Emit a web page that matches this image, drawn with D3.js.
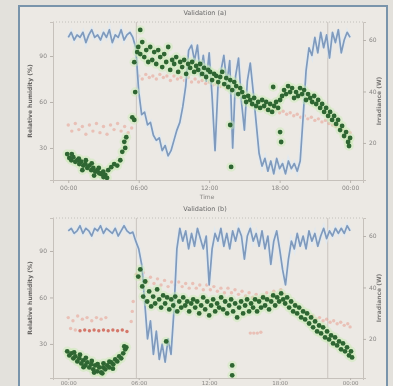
<!DOCTYPE html>
<html><head><meta charset="utf-8">
<script src="https://cdn.jsdelivr.net/npm/d3@7"></script>
<style>body{margin:0;background:#e3e1dc;} svg{display:block;font-family:"DejaVu Sans",sans-serif;}</style>
</head><body><svg id="c" width="393" height="386"></svg>
<script>
// ---------- data ----------
const hourTicks = [0, 6, 12, 18, 24];
const hourLabels = ["00:00", "06:00", "12:00", "18:00", "00:00"];
const leftTicks = [30, 60, 90];
const rightTicks = [20, 40, 60];
const markerHours = [5.8, 22.1];
const sampleHours = d3.range(0, 24.001, 0.25);

const blueTop = [61,63,60,62,61,63,59,62,64,61,62,60,63,61,64,59,62,61,64,60,62,63,61,57,40,31,32,27,28,23,21,22,17,19,15,17,21,25,28,34,42,56,58,52,58,46,54,44,55,38,17,42,48,54,43,52,18,46,53,36,25,44,51,40,28,16,11,14,9,13,8,14,10,12,8,13,10,12,9,13,30,48,57,54,61,55,63,57,62,53,63,59,64,55,60,63,61];
const blueBottom = [62,63,61,62,64,61,63,62,60,63,62,64,61,63,62,61,63,60,62,64,62,61,61.5,58,55,49,35,20,27,14,23,12,18,11,20,14,31,55,63,58,62,55,61,56,63,59,55,60,41,55,61,58,63,56,61,55,62,58,63,60,51,60,63,58,61,56,62,55,60,49,58,62,55,47,41,51,58,55,61,56,60,55,62,58,61,56,60,63,59,62,60,63,61,63,61,64,62];

const greenTop = [[-0.09,26],[0.09,23.5],[0.26,22],[0.43,24],[0.6,21],[0.77,22],[0.94,19.5],[1.11,21],[1.28,18.5],[1.45,19.5],[1.62,17],[1.79,18.5],[1.96,15.5],[2.13,17],[2.3,14.5],[2.47,15.5],[2.64,13.5],[2.81,13],[2.98,14.5],[3.15,12.5],[3.4,15.5],[3.66,17.5],[3.91,19.5],[4.17,18.5],[4.43,22],[4.6,27.5],[4.77,34],[4.94,37],[4.85,30],[0.3,26],[0.9,23],[1.5,22],[2.0,20],[2.6,17],[3.0,11],[3.3,10.5],[1.2,15.5],[2.2,12],
[5.45,50],[5.62,48.3],[5.7,66.5],[5.62,86],[6.13,107],[5.87,92.6],
[5.96,95.9],[6.13,91.3],[6.3,99.1],[6.47,89.3],[6.64,93.9],[6.81,86.1],[6.98,95.9],[7.15,87.4],[7.32,92.6],[7.49,84.8],[7.66,93.9],[7.83,89.3],[8.0,82.8],[8.17,91.3],[8.34,86.1],[8.51,95.9],[8.68,80.9],[8.85,87.4],[9.02,84.8],[9.19,89.3],[9.36,79.6],[9.53,86.1],[9.7,82.8],[9.87,87.4],[10.04,78.3],[10.21,84.8],[10.38,82.2],[10.55,86.1],[10.72,79.6],[10.89,83.5],[11.06,80.9],[11.23,84.8],
[11.4,78.3],[11.57,82.2],[11.74,76.3],[11.91,80.9],[12.08,79.6],[12.25,74.3],[12.42,78.3],[12.6,77],[12.77,73],[12.94,76.3],[13.11,79.6],[13.28,71.7],[13.45,75.6],[13.62,69.8],[13.79,74.3],[13.96,67.8],[14.13,73],[14.3,70.4],[14.47,65.2],[14.64,69.1],[14.81,66.5],[14.98,63.3],[15.15,60],[15.32,63.9],[15.49,61.3],[15.66,58.7],[15.83,62.6],[16.0,57.4],[16.17,60],[16.34,56.1],[16.51,61.3],[16.68,57.4],[16.85,60],[17.02,54.8],[17.19,58.7],[17.36,53.5],[17.53,57.4],[17.7,60],[17.87,56.1],[18.04,61.3],[18.21,63.9],[18.38,67.8],[18.55,65.2],[18.72,70.4],[18.89,66.5],[19.06,69.1],[19.23,62.6],[19.4,66.5],[19.57,63.9],[19.74,69.1],[19.91,65.2],[20.08,67.8],[20.25,61.3],[20.42,65.2],[20.6,62.6],[20.77,60],[20.94,63.9],[21.11,58.7],[21.28,61.3],[21.45,56.1],[21.62,58.7],[21.79,53.5],[21.96,56.1],[22.13,50.9],[22.3,53.5],[22.47,48.3],[22.64,50.9],[22.81,45.7],[22.98,48.3],[23.15,41.7],[23.32,44.4],[23.49,37.8],[23.66,40.4],[23.83,33.9],[24.0,36.5],[23.91,31.3],
[13.79,45],[13.87,17.6],[18.04,40.4],[18.13,33.9],[17.45,69.8]];

const redTop = [[0,45],[0.3,41],[0.6,46],[0.9,42],[1.2,44],[1.5,39],[1.8,45],[2.1,41],[2.4,46],[2.7,40],[3.0,44],[3.3,39],[3.6,45],[3.9,42],[4.2,46],[4.5,41],[4.8,44],[5.1,40],[5.4,43],
[6.0,77],[6.3,75],[6.6,78],[6.9,76],[7.2,77],[7.5,75],[7.8,78],[8.1,76],[8.4,77],[8.7,74],[9.0,77],[9.3,75],[9.6,76],[9.9,74],[10.2,76],[10.5,73],[10.8,75],[11.1,73],[11.4,74],[11.7,72],[12.0,73],[12.3,71],[12.6,72],[12.9,70],[13.2,71],[13.5,69],[13.8,70],[14.1,67],[14.4,68],[14.7,65],[15.0,63],[15.3,60],[15.6,58],[15.9,59],[16.2,56],[16.5,57],[16.8,55],[17.1,56],[17.4,54],[17.7,55],[18.0,53],[18.3,54],[18.6,52],[18.9,53],[19.2,51],[19.5,52],[19.8,50],[20.1,51],[20.4,49],[20.7,50],[21.0,48],[21.3,49],[21.6,47],[21.9,48],[22.2,46],[22.5,45],[22.8,44],[23.1,43],[23.4,42],[23.7,41],[24.0,40]];

const greenBottom = [[-0.09,25.2],[0.09,22.6],[0.26,23.9],[0.43,20.7],[0.6,22],[0.77,18.7],[0.94,20.7],[1.11,17.4],[1.28,19.4],[1.45,16.1],[1.62,18.1],[1.79,14.8],[1.96,16.8],[2.13,13.6],[2.3,16.1],[2.47,12.3],[2.64,14.8],[2.81,11.6],[2.98,14.8],[3.15,13.6],[3.32,16.1],[3.49,14.8],[3.66,18.1],[3.83,16.8],[4.0,20],[4.17,18.7],[4.34,22],[4.51,20.7],[4.68,23.9],[4.85,26.5],[4.77,28.4],[4.94,27.8],[0.5,24.5],[1.0,23],[1.5,21],[2.0,19],[2.5,17],[3.0,17.5],[3.5,18.5],[1.3,15],[2.2,11.5],[2.9,11],[3.8,14],
[5.96,73.5],[6.13,78.1],[6.3,67.1],[6.38,60.6],[6.55,70.3],[6.72,57.4],[6.89,63.9],[7.06,54.2],[7.23,60.6],[7.4,56.1],[7.57,65.2],[7.74,58.7],[7.91,53.5],[8.08,61.3],[8.25,56.1],[8.42,60],[8.6,52.3],[8.77,58.7],[8.94,54.8],[9.11,60.6],[9.28,51],[9.45,57.4],[9.62,53.5],[9.79,60],[9.96,54.8],[10.13,57.4],[10.3,51],[10.47,56.1],[10.64,58.7],[10.81,53.5],[10.98,57.4],[11.15,49.7],[11.32,54.8],[11.49,60],[11.66,52.3],[11.83,57.4],[12.0,48.4],[12.17,54.8],[12.34,58.7],[12.51,51],[12.68,56.1],[12.85,53.5],[13.02,60],[13.19,52.3],[13.36,57.4],[13.53,49.7],[13.7,54.8],[13.87,58.7],[14.04,51],[14.21,56.1],[14.38,47.1],[14.55,53.5],[14.72,57.4],[14.89,49.7],[15.06,54.8],[15.23,58.7],[15.4,51],[15.57,56.1],[15.74,53.5],[15.91,58.7],[16.08,51],[16.25,57.4],[16.42,53.5],[16.59,60],[16.76,54.8],[16.93,58.7],[17.1,52.3],[17.28,57.4],[17.45,61.3],[17.62,54.8],[17.79,60],[17.96,57.4],[18.13,62.6],[18.3,58.7],[18.47,56.1],[18.64,60],[18.81,53.5],[18.98,57.4],[19.15,51],[19.32,54.8],[19.49,49.7],[19.66,53.5],[19.83,47.1],[20.0,51],[20.17,45.8],[20.34,49.7],[20.51,43.2],[20.68,47.1],[20.85,40.7],[21.02,44.5],[21.19,38.1],[21.36,41.9],[21.53,36.8],[21.7,40.7],[21.87,34.2],[22.04,38.1],[22.21,32.9],[22.38,35.5],[22.55,30.3],[22.72,34.2],[22.89,29],[23.06,31.6],[23.23,26.5],[23.4,30.3],[23.57,25.2],[23.74,27.8],[23.91,22.6],[24.08,25.2],[24.17,21.3],
[13.96,16.1],[13.96,9.7],[8.34,31.6]];

const redBottom = [[1.0,38.5],[1.4,39],[1.8,38.5],[2.2,39],[2.6,38.5],[3.0,39],[3.4,38.5],[3.8,39],[4.2,38.5],[4.6,39],[5.0,38],[0,47],[0.4,45],[0.8,48],[1.2,46],[1.6,47],[2.0,45],[2.4,47],[2.8,46],[3.2,47],[0.2,40],[0.6,39],[5.36,44.5],[5.45,51],[5.53,57.4],
[5.8,75],[6.1,72],[6.4,76],[6.7,70],[7.0,73],[7.3,69],[7.6,72],[7.9,68],[8.2,71],[8.5,67],[8.8,70],[9.1,68],[9.4,70],[9.7,67],[10.0,69],[10.3,66],[10.6,69],[10.9,66],[11.2,68],[11.5,65],[11.8,68],[12.1,65],[12.4,67],[12.7,64],[13.0,66],[13.3,63],[13.6,66],[13.9,63],[14.2,65],[14.5,62],[14.8,64],[15.1,61],[15.4,63],[15.7,60],[16.0,62],[16.3,59],[16.6,61],[16.9,63],[17.2,60],[17.5,64],[17.8,61],[18.1,65],[18.4,62],[18.7,60],[19.0,58],[19.3,56],[19.6,54],[19.9,52],[20.2,51],[20.5,49],[20.8,48],[21.1,46],[21.4,47],[21.7,45],[22.0,46],[22.3,44],[22.6,45],[22.9,43],[23.2,44],[23.5,42],[23.8,43],[24.0,41],
[15.5,37],[15.8,37],[16.1,37],[16.4,37.5]];

// ---------- drawing ----------
const svg = d3.select("#c");
const defs = svg.append("defs");
defs.append("filter").attr("id","soft").attr("x","-5%").attr("y","-5%").attr("width","110%").attr("height","110%")
  .append("feGaussianBlur").attr("stdDeviation",0.65);

const root = svg.append("g").attr("filter","url(#soft)");
root.append("rect").attr("x",19).attr("y",6).attr("width",368).attr("height",392)
  .attr("fill","#ece9e4").attr("stroke","#7994ab").attr("stroke-width",2);

const L = 53, R = 363;
const x = d3.scaleLinear().domain([-1.3, 25.1]).range([L, R]);

const panels = [
  {top:22, bottom:180, title:"Validation (a)", lDom:[9.1,112.2], rDom:[5.6,67], blue:blueTop, green:greenTop, red:redTop, ylab:"Relative humidity (%)", rlab:"Irradiance (W)", showTime:true, tk:3, pad:3, fs:6},
  {top:218, bottom:378, title:"Validation (b)", lDom:[8.0,111.3], rDom:[4.8,67], blue:blueBottom, green:greenBottom, red:redBottom, ylab:"Relative humidity (%)", rlab:"Irradiance (W)", showTime:false, tk:2, pad:1, fs:5.5}
];

panels.forEach((p, pi) => {
  const yL = d3.scaleLinear().domain(p.lDom).range([p.bottom, p.top]);
  const yR = d3.scaleLinear().domain(p.rDom).range([p.bottom, p.top]);
  const g = root.append("g");
  const clipId = "clip" + pi;
  defs.append("clipPath").attr("id", clipId).append("rect")
    .attr("x", L).attr("y", p.top).attr("width", R - L).attr("height", p.bottom - p.top);

  g.append("text").attr("x", 205).attr("y", p.top - 7).attr("text-anchor","middle")
    .attr("font-size", 6.5).attr("fill", "#6a6a6a").text(p.title);

  g.append("line").attr("x1", L).attr("x2", R).attr("y1", p.top).attr("y2", p.top)
    .attr("stroke", "#b9b5b0").attr("stroke-width", 0.8).attr("stroke-dasharray", "1,2");

  g.selectAll(".mk").data(markerHours).join("line")
    .attr("x1", d => x(d)).attr("x2", d => x(d)).attr("y1", p.top).attr("y2", p.bottom)
    .attr("stroke", "#c9c4be").attr("stroke-width", 1);

  const axL = g.append("g").attr("transform", `translate(${L},0)`)
    .call(d3.axisLeft(yL).tickValues(leftTicks).tickSize(3).tickPadding(3));
  const axR = g.append("g").attr("transform", `translate(${R},0)`)
    .call(d3.axisRight(yR).tickValues(rightTicks).tickSize(3).tickPadding(3));
  const axB = g.append("g").attr("transform", `translate(0,${p.bottom})`)
    .call(d3.axisBottom(x).tickValues(hourTicks).tickFormat((d, i) => hourLabels[i]).tickSize(p.tk).tickPadding(p.pad));
  [axL, axR, axB].forEach(a => {
    a.select(".domain").attr("stroke", "#c6c1bb");
    a.selectAll(".tick line").attr("stroke", "#b8b3ad");
    a.selectAll("text").attr("font-size", 6).attr("fill", "#888684").attr("font-family", "DejaVu Sans");
  });
  axB.selectAll("text").attr("font-size", p.fs);

  const cy = (p.top + p.bottom) / 2;
  g.append("text").attr("transform", `translate(32,${cy}) rotate(-90)`).attr("text-anchor","middle")
    .attr("font-size", 6).attr("font-weight", "bold").attr("fill", "#676563").text(p.ylab);
  g.append("text").attr("transform", `translate(381,${cy}) rotate(-90)`).attr("text-anchor","middle")
    .attr("font-size", 6).attr("font-weight", "bold").attr("fill", "#7a7876").text(p.rlab);
  if (p.showTime) {
    g.append("text").attr("x", 207).attr("y", p.bottom + 19).attr("text-anchor","middle")
      .attr("font-size", 6).attr("fill", "#888684").text("Time");
  }

  const plot = g.append("g").attr("clip-path", `url(#${clipId})`);

  plot.selectAll(".rd").data(p.red).join("circle")
    .attr("cx", d => x(d[0])).attr("cy", d => yL(d[1])).attr("r", 1.7)
    .attr("fill", (d, i) => (pi === 1 && i < 11) ? "#d26a5c" : "#e8a597")
    .attr("opacity", (d, i) => (pi === 1 && i < 11) ? 0.9 : 0.6);

  const line = d3.line().x((d, i) => x(sampleHours[i])).y(d => yR(d));
  plot.append("path").datum(p.blue).attr("d", line).attr("fill", "none")
    .attr("stroke", "#dde8f3").attr("stroke-width", 4).attr("opacity", 0.7);
  plot.append("path").datum(p.blue).attr("d", line).attr("fill", "none")
    .attr("stroke", "#7f9abd").attr("stroke-width", 1.7).attr("stroke-linejoin", "round");

  plot.selectAll(".gh").data(p.green).join("circle")
    .attr("cx", d => x(d[0])).attr("cy", d => yL(d[1])).attr("r", 4.8)
    .attr("fill", "#c9eab4").attr("opacity", 0.45);
  plot.selectAll(".gd").data(p.green).join("circle")
    .attr("cx", d => x(d[0])).attr("cy", d => yL(d[1])).attr("r", 2.4)
    .attr("fill", "#2e6632");
});
</script></body></html>
